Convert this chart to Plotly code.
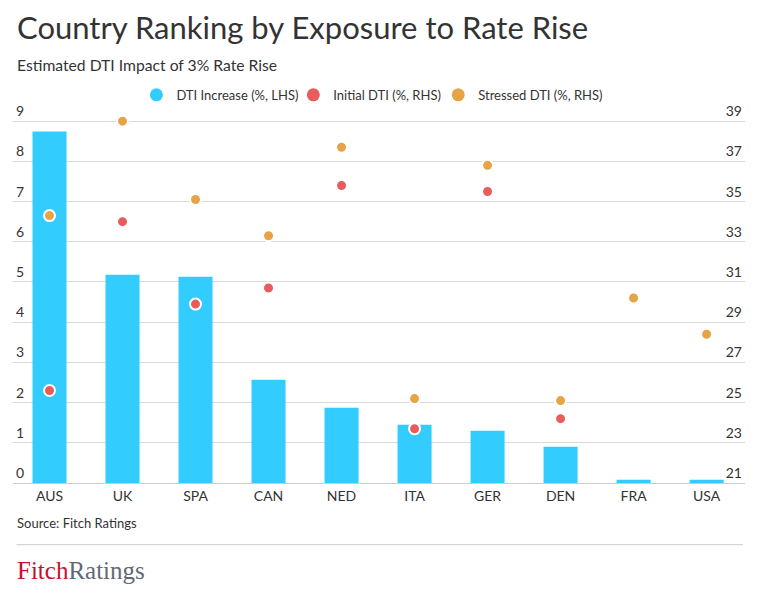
import plotly.graph_objects as go

countries = ["AUS", "UK", "SPA", "CAN", "NED", "ITA", "GER", "DEN", "FRA", "USA"]
dti_increase = [8.74, 5.18, 5.13, 2.57, 1.87, 1.45, 1.30, 0.90, 0.08, 0.08]
initial_dti = [25.6, 34.0, 29.9, 30.7, 35.8, 23.7, 35.5, 24.2, None, None]
stressed_dti = [34.3, 39.0, 35.1, 33.3, 37.7, 25.2, 36.8, 25.1, 30.2, 28.4]
left_ticks = list(range(0, 10))
right_ticks = list(range(21, 40, 2))

BLUE = "#33ccff"
RED = "#e85c5c"
ORANGE = "#e6a447"
TXT = "#333333"
FONT = "Lato"

OFF = 8  # page body margin
W, H = 776 - OFF, 597 - OFF
# screen coordinates of plot area
SL, SR = 12.5, 745
S9, S0 = 121.3, 483.3
unit = (S0 - S9) / 9.0
YTOP = 9.6
ST = S0 - YTOP * unit  # screen top of plot area
CAT_W = 73.06
XEND = -0.5 + (SR - SL) / CAT_W

L, R, T, B = SL - OFF, SR - OFF, ST - OFF, S0 - OFF
ph = B - T

def py(Y):  # screen Y -> paper
    return ((B + OFF) - Y) / ph

def px(X):  # screen X -> paper
    return (X - SL) / (SR - SL)

fig = go.Figure()
fig.add_trace(go.Bar(x=countries, y=dti_increase, marker=dict(color=BLUE, line=dict(width=0)),
                     width=0.466, showlegend=False, yaxis="y", hoverinfo="y"))
fig.add_trace(go.Scatter(x=countries, y=initial_dti, mode="markers", yaxis="y2", showlegend=False,
                         marker=dict(color=RED, size=11, line=dict(color="white", width=2))))
fig.add_trace(go.Scatter(x=countries, y=stressed_dti, mode="markers", yaxis="y2", showlegend=False,
                         marker=dict(color=ORANGE, size=11, line=dict(color="white", width=2))))

legend_items = [("DTI Increase (%, LHS)", BLUE, "legend", 176),
                ("Initial DTI (%, RHS)", RED, "legend2", 333),
                ("Stressed DTI (%, RHS)", ORANGE, "legend3", 478)]
legends = {}
for name, col, lg, tx in legend_items:
    fig.add_trace(go.Scatter(x=[None], y=[None], mode="markers", name=name, yaxis="y2", legend=lg,
                             marker=dict(color=col, size=13)))
    legends[lg] = dict(orientation="h", x=px(tx - 40), xanchor="left", y=py(95), yanchor="middle",
                       font=dict(size=13, color=TXT, family=FONT), itemclick=False,
                       bgcolor="rgba(0,0,0,0)")

fig.update_layout(
    width=W, height=H,
    margin=dict(l=L, r=W - R, t=T, b=H - B, pad=0),
    paper_bgcolor="white", plot_bgcolor="white",
    font=dict(family=FONT, color=TXT, size=14),
    showlegend=True,
    xaxis=dict(showgrid=False, showline=True, linecolor="#cccccc", linewidth=1, ticks="",
               tickfont=dict(size=14, color=TXT), range=[-0.5, XEND]),
    yaxis=dict(range=[0, YTOP], tickvals=left_ticks, showgrid=True, gridcolor="#d9d9d9", gridwidth=1,
               zeroline=False, ticklabelposition="inside top", tickfont=dict(size=14, color=TXT)),
    yaxis2=dict(range=[21, 21 + 2 * YTOP], tickvals=right_ticks, overlaying="y", side="right",
                showgrid=False, zeroline=False, ticklabelposition="inside top",
                tickfont=dict(size=14, color=TXT)),
    annotations=[
        dict(text="Country Ranking by Exposure to Rate Rise", xref="paper", yref="paper",
             x=px(14.5), y=py(27), xanchor="left", yanchor="middle", showarrow=False,
             font=dict(size=31, color=TXT, family=FONT)),
        dict(text="Estimated DTI Impact of 3% Rate Rise", xref="paper", yref="paper",
             x=px(14.5), y=py(65), xanchor="left", yanchor="middle", showarrow=False,
             font=dict(size=15.7, color=TXT, family=FONT)),
        dict(text="Source: Fitch Ratings", xref="paper", yref="paper",
             x=px(14.5), y=py(523), xanchor="left", yanchor="middle", showarrow=False,
             font=dict(size=13, color=TXT, family=FONT)),
        dict(text="<span style='color:#c8102e'>Fitch</span><span style='color:#5f6a73'>Ratings</span>",
             xref="paper", yref="paper", x=px(14.5), y=py(571), xanchor="left", yanchor="middle",
             showarrow=False, font=dict(size=25, family="Liberation Serif")),
    ],
    shapes=[dict(type="line", xref="paper", yref="paper", x0=px(16), x1=px(743), y0=py(545), y1=py(545),
                 line=dict(color="#cccccc", width=1))],
    **legends,
)

fig.write_html("out.html")
